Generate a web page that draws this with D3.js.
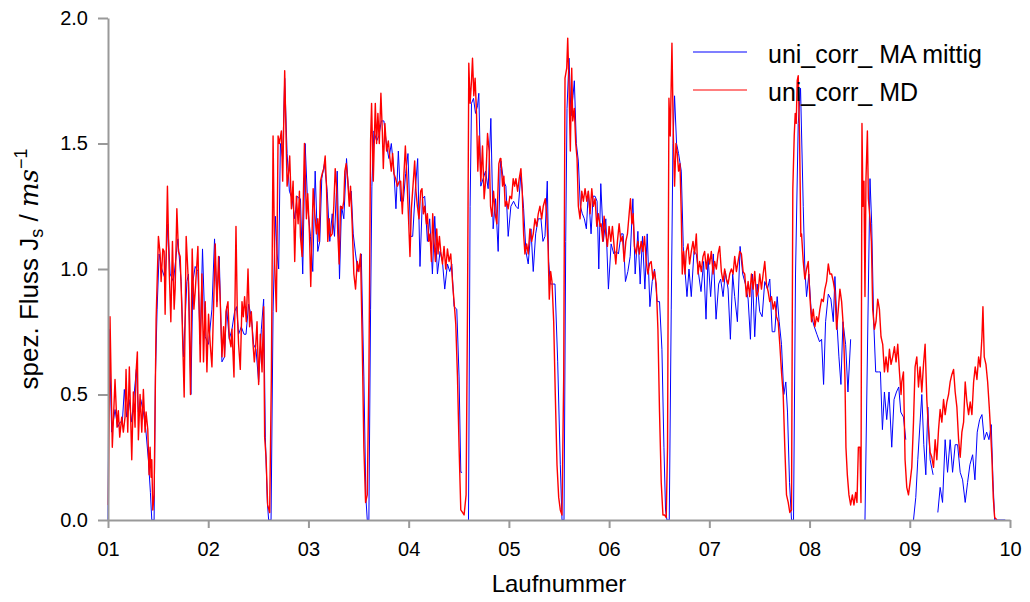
<!DOCTYPE html>
<html>
<head>
<meta charset="utf-8">
<script src="https://cdn.jsdelivr.net/npm/d3@7"></script>
<style>
  body { margin: 0; background: #fff; }
  svg { display: block; font-family: "Liberation Sans", Arial, Helvetica, sans-serif; }
</style>
</head>
<body>
<svg id="chart" width="1030" height="602"></svg>
<script>
// run numbers on the x axis, flux ticks on the y axis
const runTicks = [1, 2, 3, 4, 5, 6, 7, 8, 9, 10];
const fluxTicks = [0, 0.5, 1.0, 1.5, 2.0];
const seriesNames = ["uni_corr_ MA mittig", "uni_corr_ MD"];
const seriesColors = ["#0000ff", "#ff0000"];

// [Laufnummer, J_s], null = gap in the line
const maMittig = [
  [1.0,0.0],[1.01,0.76],[1.037,0.35],[1.07,0.44],[1.097,0.37],[1.12,0.39],[1.143,0.39],[1.163,0.52],[1.187,0.41],[1.21,0.48],
  [1.237,0.39],[1.263,0.51],[1.283,0.60],[1.303,0.43],[1.327,0.48],[1.353,0.43],[1.377,0.36],[1.403,0.24],[1.423,0.11],[1.437,0.0],
  [1.46,0.0],[1.473,0.57],[1.49,0.84],[1.51,1.06],[1.537,1.00],[1.57,0.96],[1.597,1.18],[1.62,0.98],[1.653,0.95],[1.697,1.12],
  [1.73,0.95],[1.753,0.65],[1.787,0.95],[1.803,0.98],[1.827,0.50],[1.847,0.95],[1.87,1.01],[1.897,0.99],[1.92,0.70],[1.943,1.08],
  [1.97,0.73],[2.003,0.70],[2.037,0.84],[2.063,1.12],[2.087,0.87],[2.11,1.05],[2.137,0.63],[2.163,0.65],[2.183,0.85],[2.21,0.72],
  [2.237,0.76],[2.263,0.83],[2.283,0.85],[2.303,0.74],[2.33,0.77],[2.357,0.74],[2.377,0.74],[2.403,0.86],[2.43,0.81],[2.453,0.70],
  [2.477,0.68],[2.503,0.55],[2.53,0.76],[2.553,0.88],[2.57,0.33],[2.59,0.07],[2.603,0.0],[2.627,0.0],[2.647,0.83],[2.67,1.21],
  [2.687,1.06],[2.703,1.00],[2.72,1.50],[2.743,1.44],[2.763,1.76],[2.787,1.46],[2.81,1.31],[2.837,1.28],[2.863,1.20],[2.887,1.29],
  [2.91,1.28],[2.92,1.28],[2.943,0.98],[2.967,1.50],[2.993,1.25],[3.02,1.13],[3.043,0.99],[3.067,1.39],[3.093,1.07],[3.113,1.11],
  [3.133,1.36],[3.16,1.42],[3.187,1.31],[3.213,1.11],[3.237,1.22],[3.26,1.13],[3.287,1.39],[3.31,0.96],[3.33,1.25],[3.353,1.20],
  [3.38,1.44],[3.403,1.29],[3.427,1.31],[3.447,1.14],[3.47,1.06],[3.493,0.99],[3.513,1.03],[3.527,1.06],[3.553,0.57],[3.573,0.09],
  [3.587,0.0],[3.603,0.0],[3.62,0.84],[3.633,1.33],[3.653,1.55],[3.68,1.51],[3.703,1.53],[3.727,1.59],[3.753,1.59],[3.78,1.49],
  [3.803,1.44],[3.827,1.50],[3.853,1.39],[3.873,1.24],[3.897,1.47],[3.92,1.27],[3.947,1.27],[3.97,1.38],[3.993,1.46],[4.02,1.13],
  [4.04,1.13],[4.067,1.32],[4.09,1.44],[4.113,1.01],[4.137,1.28],[4.16,1.29],[4.187,1.11],[4.21,1.20],[4.237,0.98],[4.26,1.21],
  [4.287,0.98],[4.313,1.07],[4.337,1.03],[4.36,0.92],[4.387,1.02],[4.41,0.99],[4.43,1.02],[4.453,0.85],[4.48,0.84],[4.503,0.57],
  [4.52,0.19],[4.533,0.19],[4.56,null],[4.597,0.0],[4.613,1.25],[4.627,1.66],[4.647,1.68],[4.667,1.62],[4.687,1.65],[4.7,1.70],
  [4.72,1.33],[4.743,1.36],[4.767,1.39],[4.793,1.32],[4.82,1.60],[4.843,1.16],[4.867,1.28],[4.893,1.07],[4.913,1.40],[4.92,1.43],
  [4.947,1.35],[4.97,1.33],[4.993,1.13],[5.02,1.25],[5.047,1.27],[5.07,1.25],[5.093,1.24],[5.12,1.38],[5.147,1.24],[5.17,1.07],
  [5.193,1.02],[5.22,1.16],[5.243,0.99],[5.267,1.14],[5.293,1.20],[5.32,1.20],[5.34,1.11],[5.36,1.13],[5.383,1.35],[5.397,1.03],
  [5.413,0.94],[5.437,0.94],[5.46,0.94],[5.487,0.63],[5.513,0.22],[5.53,0.0],[5.55,0.0],[5.567,1.11],[5.58,1.64],[5.6,1.84],
  [5.62,1.61],[5.64,1.69],[5.653,1.75],[5.673,1.50],[5.693,1.43],[5.713,1.25],[5.733,1.22],[5.753,1.20],[5.773,1.16],[5.793,1.31],
  [5.82,1.14],[5.84,1.29],[5.86,1.29],[5.88,1.27],[5.897,1.00],[5.917,1.34],[5.943,1.11],[5.967,1.20],[5.993,0.92],[6.02,1.10],
  [6.047,1.06],[6.07,1.07],[6.093,1.06],[6.12,1.14],[6.14,1.14],[6.163,0.95],[6.187,0.99],[6.21,1.05],[6.237,1.28],[6.26,0.98],
  [6.287,1.15],[6.31,0.94],[6.333,1.13],[6.357,0.92],[6.38,1.14],[6.407,0.85],[6.43,0.95],[6.453,1.00],[6.48,0.87],[6.503,0.87],
  [6.527,0.68],[6.547,0.29],[6.563,0.04],[6.577,0.0],[6.6,0.0],[6.62,0.84],[6.637,1.50],[6.653,1.69],[6.673,1.50],[6.693,1.46],
  [6.72,1.39],[6.74,1.09],[6.76,0.98],[6.777,0.89],[6.797,1.00],[6.82,0.89],[6.847,1.07],[6.87,1.06],[6.893,0.98],[6.917,0.91],
  [6.943,1.03],[6.967,0.80],[6.987,1.05],[7.013,0.89],[7.04,1.06],[7.067,0.80],[7.093,0.94],[7.113,0.96],[7.137,0.89],[7.16,0.99],
  [7.187,0.92],[7.21,0.72],[7.233,0.98],[7.253,0.89],[7.28,0.79],[7.307,1.09],[7.333,0.98],[7.36,0.94],[7.387,0.88],[7.41,0.72],
  [7.43,0.98],[7.453,0.73],[7.477,0.94],[7.503,0.83],[7.527,0.81],[7.553,0.95],[7.58,0.92],[7.603,0.96],[7.627,0.75],[7.653,0.75],
  [7.677,0.89],[7.697,0.79],[7.72,0.70],[7.743,0.50],[7.763,0.55],[7.78,0.43],[7.8,0.15],[7.82,0.0],[7.84,0.0],[7.86,0.98],
  [7.887,1.58],[7.91,1.72],[7.937,1.25],[7.953,1.00],[7.97,0.89],[7.993,0.98],[8.02,0.81],[8.047,0.77],[8.073,0.74],[8.1,0.71],
  [8.12,0.72],[8.14,0.54],[8.16,0.79],[8.187,0.90],[8.213,0.88],[8.237,0.79],[8.253,0.97],[8.277,0.76],[8.293,0.65],[8.313,0.54],
  [8.333,0.79],[8.36,0.70],[8.383,0.51],[8.41,0.72],[8.48,null],[8.553,0.0],[8.603,1.36],[8.62,1.18],[8.64,0.79],[8.66,0.59],
  [8.687,0.59],[8.707,0.59],[8.727,0.36],[8.747,0.51],[8.77,0.40],[8.793,0.51],[8.82,0.29],[8.843,0.48],[8.867,0.51],[8.89,0.53],
  [8.91,0.43],[8.937,0.41],[8.96,0.32],[9.0,null],[9.037,0.0],[9.06,0.09],[9.08,0.24],[9.103,0.39],[9.12,0.50],[9.14,0.30],
  [9.16,0.18],[9.18,0.45],[9.203,0.24],[9.233,0.18],[9.26,null],[9.28,0.03],[9.303,0.13],[9.327,0.07],[9.353,0.32],[9.377,0.19],
  [9.403,0.32],[9.427,0.19],[9.453,0.30],[9.477,0.30],[9.503,0.19],[9.527,0.16],[9.553,0.07],[9.577,0.15],[9.6,0.22],[9.627,0.26],
  [9.65,0.16],[9.673,0.35],[9.697,0.40],[9.72,0.42],[9.743,0.32],[9.767,0.35],[9.79,0.32],[9.813,0.38],[9.83,0.16],[9.847,0.0],
  [9.953,0.0]
];

const mdSeries = [
  [1.003,0.06],[1.02,0.81],[1.043,0.29],[1.07,0.56],[1.09,0.37],[1.103,0.435],[1.117,0.33],[1.137,0.41],[1.153,0.35],[1.17,0.41],
  [1.18,0.60],[1.197,0.35],[1.213,0.61],[1.237,0.24],[1.253,0.51],[1.27,0.37],[1.277,0.57],[1.293,0.67],[1.303,0.32],[1.32,0.50],
  [1.337,0.35],[1.353,0.52],[1.37,0.35],[1.38,0.43],[1.397,0.36],[1.41,0.18],[1.42,0.29],[1.43,0.17],[1.437,0.24],[1.447,0.04],
  [1.46,0.10],[1.48,0.80],[1.503,1.13],[1.52,1.06],[1.53,0.95],[1.547,1.08],[1.56,1.07],[1.57,0.82],[1.593,1.33],[1.61,1.00],
  [1.627,0.79],[1.643,1.11],[1.66,0.84],[1.67,0.92],[1.687,1.24],[1.703,1.07],[1.72,1.05],[1.737,0.84],[1.76,0.49],[1.78,1.13],
  [1.803,0.94],[1.823,0.50],[1.84,1.08],[1.857,0.84],[1.87,0.91],[1.897,1.09],[1.92,0.63],[1.937,0.98],[1.953,0.63],[1.97,0.87],
  [1.987,0.59],[2.003,0.82],[2.02,0.70],[2.037,0.61],[2.053,0.84],[2.07,1.10],[2.087,0.85],[2.103,1.05],[2.12,0.87],[2.137,0.65],
  [2.153,0.77],[2.163,0.65],[2.177,0.83],[2.197,0.87],[2.21,0.73],[2.227,0.69],[2.237,0.76],[2.257,0.57],[2.277,1.17],[2.29,0.83],
  [2.303,0.70],[2.32,0.60],[2.337,0.87],[2.35,0.81],[2.363,0.89],[2.38,0.79],[2.397,1.00],[2.413,0.77],[2.43,0.83],[2.447,0.70],
  [2.46,0.63],[2.473,0.69],[2.487,0.79],[2.503,0.54],[2.52,0.74],[2.537,0.59],[2.553,0.85],[2.563,0.33],[2.577,0.25],[2.593,0.06],
  [2.613,0.03],[2.63,0.57],[2.647,1.53],[2.663,1.02],[2.68,0.83],[2.697,1.53],[2.71,1.50],[2.73,1.55],[2.743,1.35],[2.763,1.79],
  [2.787,1.33],[2.803,1.39],[2.813,1.45],[2.83,1.24],[2.847,1.35],[2.863,1.03],[2.88,1.29],[2.897,1.18],[2.91,1.31],[2.92,1.13],
  [2.937,1.05],[2.96,1.50],[2.98,1.20],[2.993,1.30],[3.01,1.14],[3.023,0.93],[3.047,1.32],[3.063,1.22],[3.08,1.14],[3.093,1.20],
  [3.107,1.11],[3.12,1.35],[3.137,1.38],[3.153,1.40],[3.167,1.45],[3.18,1.33],[3.193,1.11],[3.207,1.20],[3.22,1.13],[3.237,1.14],
  [3.253,1.25],[3.267,1.40],[3.28,1.33],[3.293,1.14],[3.307,1.02],[3.32,1.25],[3.34,1.24],[3.353,1.27],[3.363,1.39],[3.377,1.42],
  [3.393,1.35],[3.407,1.25],[3.42,1.33],[3.437,1.17],[3.453,0.98],[3.47,0.92],[3.487,1.03],[3.503,0.99],[3.52,1.06],[3.537,0.70],
  [3.553,0.29],[3.57,0.07],[3.587,0.10],[3.603,0.57],[3.62,1.51],[3.63,1.66],[3.647,1.35],[3.667,1.66],[3.68,1.50],[3.693,1.62],
  [3.707,1.50],[3.723,1.70],[3.737,1.55],[3.747,1.40],[3.763,1.58],[3.78,1.47],[3.797,1.51],[3.813,1.44],[3.827,1.39],[3.84,1.46],
  [3.853,1.38],[3.87,1.36],[3.887,1.33],[3.907,1.35],[3.92,1.35],[3.937,1.22],[3.953,1.38],[3.967,1.49],[3.983,1.36],[3.997,1.22],
  [4.013,1.05],[4.027,1.24],[4.043,1.33],[4.06,1.43],[4.073,1.31],[4.087,1.25],[4.103,1.20],[4.12,1.31],[4.133,1.32],[4.147,1.22],
  [4.16,1.25],[4.177,1.18],[4.187,1.22],[4.2,1.11],[4.213,1.14],[4.227,1.03],[4.24,1.22],[4.253,1.11],[4.267,1.03],[4.28,1.16],
  [4.293,1.06],[4.307,1.13],[4.32,1.07],[4.337,1.02],[4.353,1.09],[4.37,1.00],[4.387,1.08],[4.403,1.03],[4.42,1.06],[4.437,0.95],
  [4.453,0.87],[4.47,0.78],[4.487,0.57],[4.503,0.29],[4.52,0.04],[4.537,0.03],[4.553,0.02],[4.573,0.10],[4.587,0.84],[4.6,1.82],
  [4.613,1.66],[4.627,1.75],[4.637,1.84],[4.65,1.69],[4.663,1.76],[4.677,1.62],[4.69,1.39],[4.703,1.53],[4.72,1.35],[4.737,1.49],
  [4.753,1.28],[4.77,1.36],[4.787,1.54],[4.803,1.47],[4.817,1.25],[4.83,1.21],[4.847,1.31],[4.863,1.22],[4.88,1.18],[4.9,1.42],
  [4.913,1.44],[4.92,1.44],[4.937,1.33],[4.95,1.37],[4.963,1.25],[4.977,1.27],[4.993,1.24],[5.01,1.29],[5.027,1.28],[5.043,1.36],
  [5.057,1.33],[5.07,1.36],[5.087,1.31],[5.103,1.36],[5.12,1.40],[5.133,1.31],[5.147,1.14],[5.16,1.06],[5.177,1.10],[5.193,1.06],
  [5.21,1.16],[5.227,1.11],[5.243,1.14],[5.26,1.20],[5.277,1.17],[5.293,1.22],[5.31,1.25],[5.327,1.20],[5.343,1.25],[5.363,1.28],
  [5.377,1.22],[5.39,1.10],[5.403,0.88],[5.417,0.99],[5.43,0.95],[5.447,0.79],[5.463,0.50],[5.48,0.22],[5.497,0.09],[5.513,0.04],
  [5.53,0.02],[5.547,0.57],[5.56,1.76],[5.577,1.80],[5.587,1.92],[5.6,1.73],[5.613,1.47],[5.627,1.80],[5.637,1.59],[5.653,1.64],
  [5.667,1.50],[5.68,1.44],[5.693,1.25],[5.71,1.20],[5.727,1.31],[5.743,1.27],[5.76,1.32],[5.777,1.27],[5.793,1.31],[5.81,1.22],
  [5.827,1.32],[5.843,1.25],[5.86,1.28],[5.877,1.17],[5.893,1.22],[5.91,1.17],[5.92,1.18],[5.937,1.11],[5.95,1.21],[5.967,1.14],
  [5.983,1.09],[6.0,1.17],[6.017,1.11],[6.033,1.17],[6.05,1.09],[6.067,1.02],[6.083,1.11],[6.1,1.18],[6.117,1.11],[6.133,1.13],
  [6.15,1.03],[6.167,1.11],[6.183,1.14],[6.2,1.22],[6.213,1.28],[6.227,1.18],[6.24,1.22],[6.253,1.09],[6.27,1.06],[6.287,1.11],
  [6.303,1.06],[6.32,1.11],[6.337,1.07],[6.353,1.13],[6.37,1.03],[6.387,0.98],[6.403,1.02],[6.42,1.03],[6.437,0.96],[6.453,0.99],
  [6.47,0.94],[6.487,0.76],[6.503,0.43],[6.52,0.15],[6.537,0.02],[6.553,0.02],[6.57,0.01],[6.583,0.29],[6.597,1.68],[6.61,1.53],
  [6.627,1.90],[6.64,1.55],[6.653,1.33],[6.667,1.50],[6.68,1.46],[6.693,1.39],[6.707,1.42],[6.72,1.22],[6.73,0.98],[6.743,1.07],
  [6.757,0.98],[6.77,1.07],[6.787,1.10],[6.803,1.02],[6.82,1.07],[6.837,1.11],[6.853,1.06],[6.87,1.14],[6.887,0.98],[6.903,1.03],
  [6.92,0.99],[6.937,1.05],[6.953,1.07],[6.97,1.00],[6.987,1.06],[7.003,1.02],[7.02,1.07],[7.037,0.98],[7.053,1.03],[7.07,1.00],
  [7.087,1.06],[7.103,1.09],[7.12,0.99],[7.137,0.95],[7.153,1.00],[7.17,0.96],[7.187,0.94],[7.203,0.98],[7.22,1.00],[7.237,0.98],
  [7.253,1.05],[7.27,0.99],[7.287,1.03],[7.303,1.07],[7.32,1.06],[7.337,0.99],[7.353,0.98],[7.37,0.89],[7.387,0.95],[7.403,0.89],
  [7.42,0.98],[7.437,0.92],[7.453,0.99],[7.47,0.89],[7.487,0.91],[7.503,0.98],[7.52,0.92],[7.537,0.98],[7.553,1.03],[7.57,0.94],
  [7.587,0.91],[7.603,0.87],[7.62,0.89],[7.637,0.84],[7.653,0.87],[7.67,0.81],[7.687,0.79],[7.703,0.70],[7.72,0.59],[7.737,0.50],
  [7.753,0.29],[7.77,0.10],[7.787,0.07],[7.803,0.03],[7.82,0.04],[7.833,1.32],[7.847,1.53],[7.857,1.62],[7.867,1.58],[7.877,1.75],
  [7.887,1.77],[7.9,1.53],[7.913,1.13],[7.92,1.14],[7.937,1.03],[7.953,0.96],[7.97,1.00],[7.987,1.03],[8.003,0.89],[8.02,0.79],
  [8.037,0.84],[8.053,0.77],[8.07,0.81],[8.087,0.79],[8.103,0.84],[8.12,0.88],[8.137,0.87],[8.153,0.92],[8.17,0.95],[8.187,1.02],
  [8.203,0.98],[8.22,0.98],[8.237,0.95],[8.253,0.91],[8.27,0.76],[8.287,0.84],[8.303,0.92],[8.32,0.87],[8.337,0.77],[8.353,0.57],
  [8.363,0.29],[8.377,0.18],[8.393,0.10],[8.41,0.06],[8.427,0.10],[8.443,0.06],[8.46,0.11],[8.473,0.07],[8.487,0.29],[8.503,0.29],
  [8.513,0.07],[8.523,1.58],[8.533,1.25],[8.543,1.35],[8.553,0.89],[8.563,1.36],[8.577,1.55],[8.587,1.28],[8.603,1.20],[8.617,1.11],
  [8.63,0.84],[8.647,0.76],[8.663,0.79],[8.68,0.88],[8.697,0.84],[8.713,0.73],[8.73,0.70],[8.747,0.59],[8.763,0.65],[8.78,0.59],
  [8.797,0.68],[8.813,0.62],[8.83,0.65],[8.847,0.69],[8.863,0.63],[8.88,0.70],[8.897,0.59],[8.913,0.50],[8.92,0.55],[8.937,0.59],
  [8.953,0.24],[8.97,0.13],[8.987,0.10],[9.003,0.15],[9.02,0.21],[9.037,0.39],[9.053,0.61],[9.07,0.65],[9.087,0.53],[9.103,0.61],
  [9.12,0.51],[9.137,0.62],[9.153,0.70],[9.17,0.48],[9.187,0.36],[9.203,0.27],[9.22,0.25],[9.237,0.21],[9.253,0.32],[9.27,0.24],
  [9.287,0.36],[9.303,0.44],[9.32,0.39],[9.337,0.48],[9.353,0.42],[9.37,0.47],[9.387,0.50],[9.403,0.55],[9.42,0.58],[9.437,0.60],
  [9.453,0.51],[9.47,0.45],[9.487,0.32],[9.503,0.25],[9.52,0.35],[9.537,0.39],[9.553,0.55],[9.57,0.47],[9.587,0.42],[9.603,0.47],
  [9.62,0.42],[9.637,0.55],[9.653,0.61],[9.67,0.56],[9.687,0.65],[9.703,0.61],[9.72,0.73],[9.73,0.85],[9.743,0.65],[9.76,0.62],
  [9.777,0.55],[9.793,0.45],[9.807,0.35],[9.82,0.24],[9.833,0.09],[9.847,0.01],[9.87,0.0]
];

const svg = d3.select('#chart');
const plotLeft = 108, plotRight = 1010, plotTop = 18, plotBottom = 520;

const x = d3.scaleLinear().domain([1, 10]).range([plotLeft, plotRight]);
const y = d3.scaleLinear().domain([0, 2]).range([plotBottom, plotTop]);

// plot lines first, axes on top of them
const line = d3.line()
    .defined(d => d[1] !== null)
    .x(d => x(d[0]))
    .y(d => y(d[1]));

svg.append('path')
    .datum(maMittig)
    .attr('fill', 'none')
    .attr('stroke', seriesColors[0])
    .attr('stroke-width', 1)
    .attr('stroke-linejoin', 'round')
    .attr('d', line);

svg.append('path')
    .datum(mdSeries)
    .attr('fill', 'none')
    .attr('stroke', seriesColors[1])
    .attr('stroke-width', 1.4)
    .attr('stroke-linejoin', 'round')
    .attr('d', line);

// axes
const xAxis = svg.append('g')
    .attr('transform', `translate(0,${plotBottom})`)
    .call(d3.axisBottom(x)
        .tickValues(runTicks)
        .tickFormat(d3.format('02d'))
        .tickSize(8)
        .tickSizeOuter(0)
        .tickPadding(14));

const yAxis = svg.append('g')
    .attr('transform', `translate(${plotLeft},0)`)
    .call(d3.axisLeft(y)
        .tickValues(fluxTicks)
        .tickFormat(d3.format('.1f'))
        .tickSize(10)
        .tickSizeOuter(0)
        .tickPadding(10));

[xAxis, yAxis].forEach(g => {
    g.selectAll('path, line').attr('stroke', '#999').attr('stroke-width', 2);
    g.selectAll('text')
        .attr('fill', '#000')
        .style('font-size', '20px')
        .style('font-family', '"Liberation Sans", Arial, sans-serif');
});

// axis titles
svg.append('text')
    .attr('x', (plotLeft + plotRight) / 2)
    .attr('y', 592)
    .attr('text-anchor', 'middle')
    .style('font-size', '24px')
    .text('Laufnummer');

const yTitle = svg.append('text')
    .attr('transform', `translate(38,${(plotTop + plotBottom) / 2}) rotate(-90)`)
    .attr('text-anchor', 'middle')
    .style('font-size', '26px');
yTitle.append('tspan').text('spez. Fluss J');
yTitle.append('tspan').attr('dy', 5).style('font-size', '18px').text('s');
yTitle.append('tspan').attr('dy', -5).text(' / ');
yTitle.append('tspan')
    .style('font-family', '"DejaVu Serif", "Liberation Serif", serif')
    .style('font-style', 'italic')
    .text('ms');
yTitle.append('tspan').attr('dy', -11).style('font-size', '18px').text('\u22121');

// legend
const legend = svg.append('g').attr('transform', 'translate(693,52)');
seriesNames.forEach((name, i) => {
    const row = legend.append('g').attr('transform', `translate(0,${i * 38})`);
    row.append('line')
        .attr('x1', 0).attr('x2', 54)
        .attr('y1', 0).attr('y2', 0)
        .attr('stroke', seriesColors[i])
        .attr('stroke-width', 1.2);
    row.append('text')
        .attr('x', 75)
        .attr('y', 11)
        .style('font-size', '25px')
        .text(name);
});
</script>
</body>
</html>
